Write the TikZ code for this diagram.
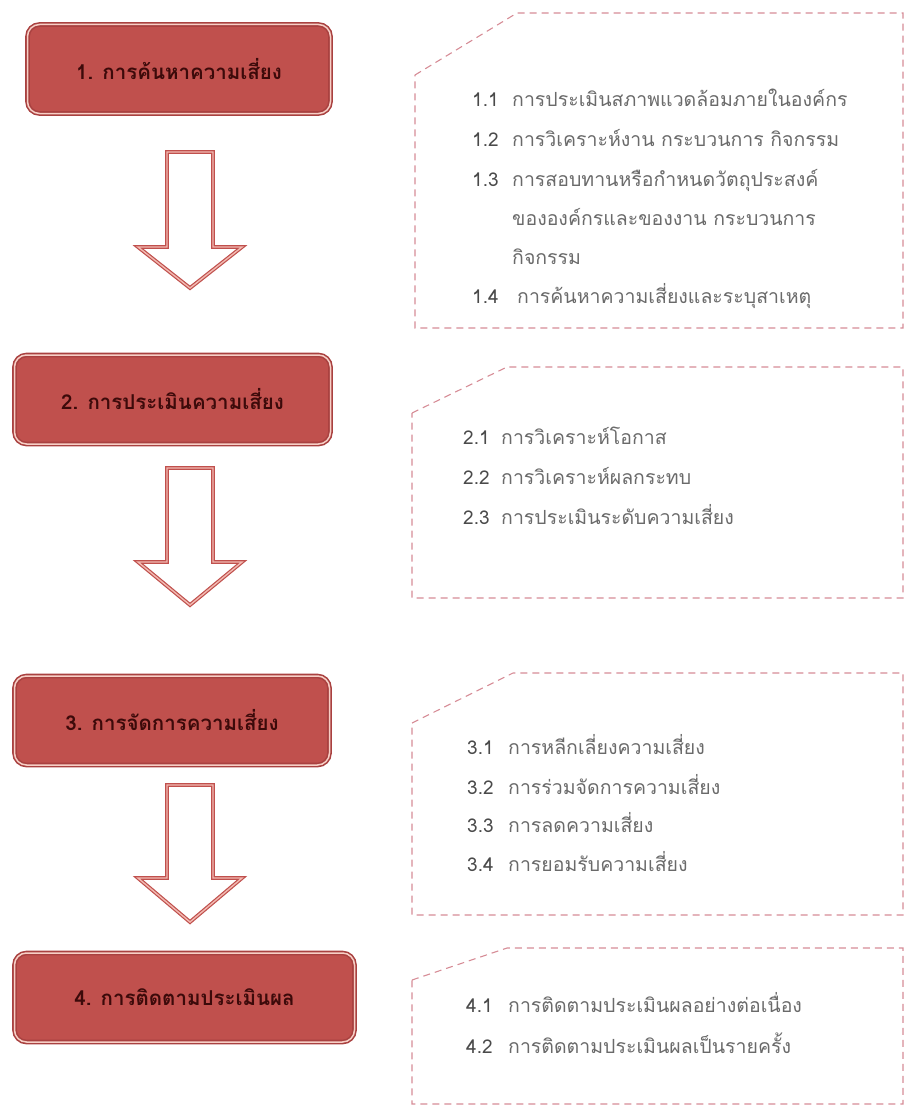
\documentclass[tikz,border=0pt]{standalone}
\usepackage{fontspec}
\newfontfamily\thaifont[Script=Thai]{Loma}
\usepackage{tikz}
\usetikzlibrary{positioning}

\definecolor{stagefill}{HTML}{C0504D}
\definecolor{stageedge}{HTML}{A94140}
\definecolor{stageline}{HTML}{F7CFC6}
\definecolor{stagetext}{HTML}{3C0A0A}
\definecolor{flowedge}{HTML}{C0504D}
\definecolor{flowline}{HTML}{F2B9B1}
\definecolor{paneldash}{HTML}{D68C96}
\definecolor{itemtext}{HTML}{6A6A6A}
\definecolor{itemnum}{HTML}{4A4A4A}

\tikzset{
  stage/.style={draw=stageedge, line width=1.6pt, double=stageline,
    double distance=1.5pt, fill=stagefill, rounded corners=12pt,
    minimum height=89pt, text=stagetext,
    font=\thaifont\bfseries\fontsize{20.5}{24}\selectfont},
  flow/.style={draw=flowedge, line width=1.2pt, double=flowline,
    double distance=1.4pt, fill=white, line join=miter},
  panel/.style={draw=paneldash, line width=1.1pt, dash pattern=on 7pt off 5pt},
  num/.style={anchor=base west, inner sep=0pt, text=itemnum,
    font=\thaifont\fontsize{19}{22}\selectfont},
  item/.style={anchor=base west, inner sep=0pt, text=itemtext,
    font=\thaifont\fontsize{19.5}{22}\selectfont}
}

\begin{document}
\begin{tikzpicture}[x=1pt, y=-1pt]
    \useasboundingbox (0, 0) rectangle (906, 1108);

    % main steps
    \node [stage, minimum width=303pt] (s1) at (179, 69) {1. การค้นหาความเสี่ยง};
    \node [stage, minimum width=316pt] (s2) at (172.5, 399.5) {2. การประเมินความเสี่ยง};
    \node [stage, minimum width=315pt] (s3) at (172, 720.5) {3. การจัดการความเสี่ยง};
    \node [stage, minimum width=340pt] (s4) at (184.5, 997.5) {4. การติดตามประเมินผล};

    % block arrows between the steps
    \foreach \t/\h/\e in {152/247/288, 468/562/605, 785/878/922} {
      \draw [flow] (167, \t) -- (213, \t) -- (213, \h) -- (242, \h)
        -- (190, \e) -- (138, \h) -- (167, \h) -- cycle;
    }

    % dashed panels
    \foreach \l/\c/\k/\tp/\b in {415/75/517/13/328, 412/413/507/367/598,
                                 412/723/513/673/915, 412/980/507/948/1104} {
      \draw [panel] (\l, \c) -- (\k, \tp) -- (903, \tp) -- (903, \b)
        -- (\l, \b) -- cycle;
    }

    % panel 1
    \node [num] (n11) at (472, 106) {1.1};
    \node [item] (i11) at (512, 106) {การประเมินสภาพแวดล้อมภายในองค์กร};
    \node [num] (n12) at (472, 146) {1.2};
    \node [item] (i12) at (512, 146) {การวิเคราะห์งาน กระบวนการ กิจกรรม};
    \node [num] (n13) at (472, 186) {1.3};
    \node [item] (i13) at (512, 186) {การสอบทานหรือกำหนดวัตถุประสงค์};
    \node [item] (i13b) at (512, 225) {ขององค์กรและของงาน กระบวนการ};
    \node [item] (i13c) at (512, 264) {กิจกรรม};
    \node [num] (n14) at (472, 303) {1.4};
    \node [item] (i14) at (517, 303) {การค้นหาความเสี่ยงและระบุสาเหตุ};

    % panel 2
    \node [num] (n21) at (463, 444) {2.1};
    \node [item] (i21) at (501, 444) {การวิเคราะห์โอกาส};
    \node [num] (n22) at (463, 484) {2.2};
    \node [item] (i22) at (501, 484) {การวิเคราะห์ผลกระทบ};
    \node [num] (n23) at (463, 524) {2.3};
    \node [item] (i23) at (501, 524) {การประเมินระดับความเสี่ยง};

    % panel 3
    \node [num] (n31) at (467, 754) {3.1};
    \node [item] (i31) at (508, 754) {การหลีกเลี่ยงความเสี่ยง};
    \node [num] (n32) at (467, 794) {3.2};
    \node [item] (i32) at (508, 794) {การร่วมจัดการความเสี่ยง};
    \node [num] (n33) at (467, 832) {3.3};
    \node [item] (i33) at (508, 832) {การลดความเสี่ยง};
    \node [num] (n34) at (467, 871) {3.4};
    \node [item] (i34) at (508, 871) {การยอมรับความเสี่ยง};

    % panel 4
    \node [num] (n41) at (466, 1012) {4.1};
    \node [item] (i41) at (508, 1012) {การติดตามประเมินผลอย่างต่อเนื่อง};
    \node [num] (n42) at (466, 1053) {4.2};
    \node [item] (i42) at (508, 1053) {การติดตามประเมินผลเป็นรายครั้ง};
\end{tikzpicture}
\end{document}
